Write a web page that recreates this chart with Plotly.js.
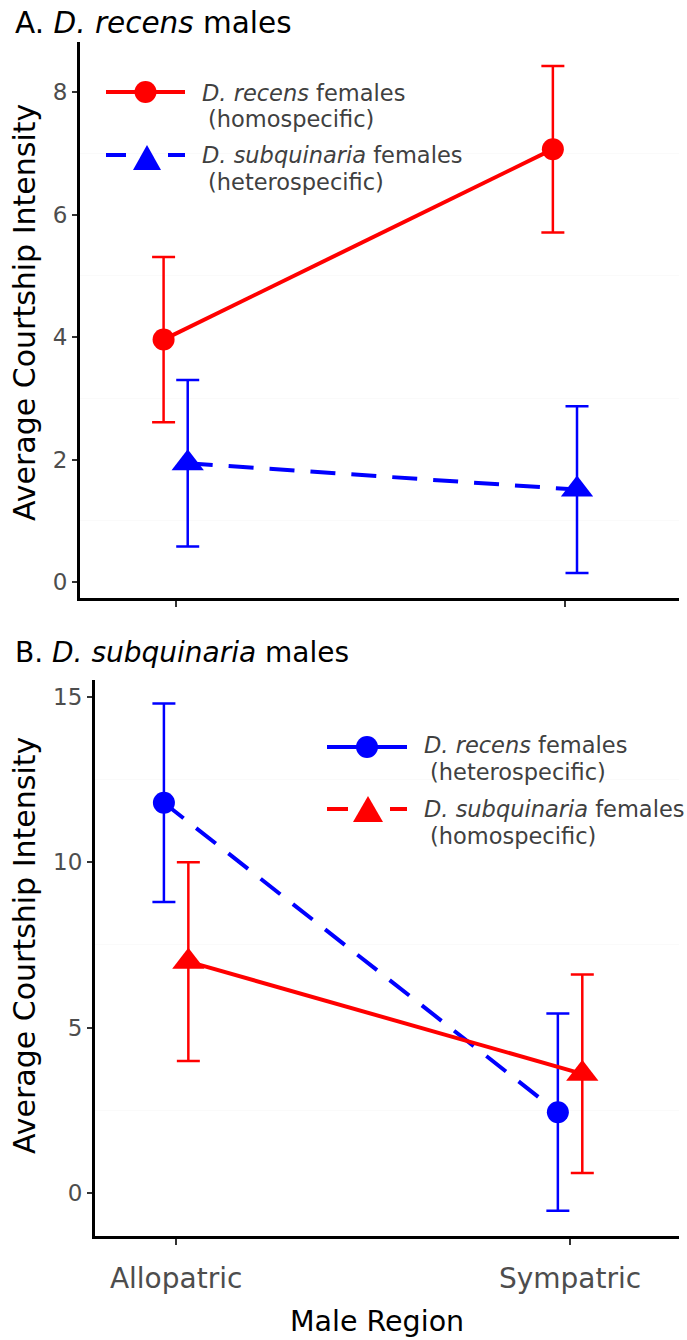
<!DOCTYPE html>
<html>
<head>
<meta charset="utf-8">
<script src="https://cdn.plot.ly/plotly-3.0.1.min.js"></script>
<style>html,body{margin:0;padding:0;background:#fff}</style>
</head>
<body>
<div id="chart" style="width:687px;height:1340px"></div>
<script>
// Male region categories (x axis of both panels)
const regions = ['Allopatric', 'Sympatric'];

// Panel A: D. recens males – mean courtship intensity and error half-widths
const aRecensFemales = [3.96, 7.07];
const aRecensFemalesErr = [1.35, 1.36];
const aSubqFemales = [1.94, 1.51];
const aSubqFemalesErr = [1.36, 1.36];

// Panel B: D. subquinaria males
const bRecensFemales = [11.79, 2.44];
const bRecensFemalesErr = [3.0, 2.98];
const bSubqFemales = [6.99, 3.60];
const bSubqFemalesErr = [3.0, 3.0];

// Tick values for the y axes
const aYTicks = [0, 2, 4, 6, 8];
const bYTicks = [0, 5, 10, 15];

const W = 687, H = 1340;
const px = v => v / W;
const py = v => 1 - v / H;

const RED = '#FF0000', BLUE = '#0000FF';
const FONT = 'DejaVu Sans';
const DODGE = 0.031;   // horizontal dodge between female groups
const DASH = '25px,16px';

// x positions: category index, dodged left for D. recens females, right for D. subquinaria females
const xLeft = regions.map((_, i) => i + 1 - DODGE);
const xRight = regions.map((_, i) => i + 1 + DODGE);

function series(x, y, err, color, symbol, size, dash, xa, ya) {
  return {
    type: 'scatter', mode: 'lines+markers',
    x: x, y: y, xaxis: xa, yaxis: ya,
    line: {color: color, width: 4, dash: dash},
    marker: {color: color, symbol: symbol, size: size, line: {width: 0}},
    error_y: {type: 'data', array: err, visible: true, color: color, thickness: 2.5, width: 11.5},
    showlegend: false, hoverinfo: 'x+y'
  };
}

const data = [
  series(xLeft, aRecensFemales, aRecensFemalesErr, RED, 'circle', 22, 'solid', 'x', 'y'),
  series(xRight, aSubqFemales, aSubqFemalesErr, BLUE, 'triangle-up', 28, DASH, 'x', 'y'),
  series(xLeft, bRecensFemales, bRecensFemalesErr, BLUE, 'circle', 22, DASH, 'x2', 'y2'),
  series(xRight, bSubqFemales, bSubqFemalesErr, RED, 'triangle-up', 28, 'solid', 'x2', 'y2')
];

const axisCommon = {
  showline: true, linecolor: '#000', linewidth: 2.5,
  ticks: 'outside', ticklen: 5, tickwidth: 2, tickcolor: '#333',
  showgrid: false, zeroline: false, fixedrange: true
};

const layout = {
  width: W, height: H,
  margin: {l: 0, r: 0, t: 0, b: 0},
  paper_bgcolor: '#fff', plot_bgcolor: '#fff',
  font: {family: FONT, color: '#4d4d4d'},
  showlegend: false,
  xaxis: Object.assign({}, axisCommon, {
    domain: [px(79.5), px(679)], range: [0.753, 2.293], anchor: 'y',
    tickvals: [1, 2], ticktext: regions, showticklabels: false, ticklen: 6
  }),
  yaxis: Object.assign({}, axisCommon, {
    domain: [py(598), py(42)], range: [-0.26, 8.82], anchor: 'x',
    tickvals: aYTicks, tickfont: {size: 23, color: '#4d4d4d'}, ticklabelstandoff: 0,
    minor: {tick0: 1, dtick: 2, showgrid: true, gridcolor: '#fafafa', gridwidth: 1, ticks: ''}
  }),
  xaxis2: Object.assign({}, axisCommon, {
    domain: [px(94.5), px(679)], range: [0.7928, 2.2765], anchor: 'y2',
    tickvals: [1, 2], ticktext: regions, ticklen: 6,
    tickfont: {size: 28, color: '#4d4d4d'}, ticklabelstandoff: 10
  }),
  yaxis2: Object.assign({}, axisCommon, {
    domain: [py(1236), py(680)], range: [-1.30, 15.5], anchor: 'x2',
    tickvals: bYTicks, tickfont: {size: 23, color: '#4d4d4d'}, ticklabelstandoff: 0,
    minor: {tick0: 2.5, dtick: 5, showgrid: true, gridcolor: '#fafafa', gridwidth: 1, ticks: ''}
  }),
  annotations: [],
  shapes: []
};

function note(text, x, y, size, color, extra) {
  layout.annotations.push(Object.assign({
    xref: 'paper', yref: 'paper', x: px(x), y: py(y),
    xanchor: 'left', yanchor: 'middle', showarrow: false,
    text: text, font: {family: FONT, size: size, color: color}
  }, extra || {}));
}

// Panel titles and axis titles
note('A. <i>D. recens</i> males', 13, 23, 29.5, '#000');
note('B. <i>D. subquinaria</i> males', 13, 653, 28, '#000');
note('Average Courtship Intensity', 24, 313, 30, '#000', {xanchor: 'center', textangle: -90});
note('Average Courtship Intensity', 24, 946, 30, '#000', {xanchor: 'center', textangle: -90});
note('Male Region', 376.5, 1321, 28.5, '#000', {xanchor: 'center'});

// Legend keys
function keyLine(x0, x1, y, color) {
  layout.shapes.push({type: 'line', xref: 'paper', yref: 'paper',
    x0: px(x0), x1: px(x1), y0: py(y), y1: py(y), line: {color: color, width: 4}});
}
function keyCircle(cx, cy, d, color) {
  layout.shapes.push({type: 'circle', xref: 'paper', yref: 'paper',
    xsizemode: 'pixel', ysizemode: 'pixel', xanchor: px(cx), yanchor: py(cy),
    x0: -d / 2, x1: d / 2, y0: -d / 2, y1: d / 2,
    fillcolor: color, line: {width: 0}});
}
function keyTriangle(cx, cy, w, h, color) {
  layout.shapes.push({type: 'path', xref: 'paper', yref: 'paper',
    xsizemode: 'pixel', ysizemode: 'pixel', xanchor: px(cx), yanchor: py(cy),
    path: `M${-w / 2},${-h / 2} L${w / 2},${-h / 2} L0,${h / 2} Z`,
    fillcolor: color, line: {width: 0}});
}

const LEG = 22.5;  // legend text size

// Legend, panel A
keyLine(106, 185, 92, RED);
keyCircle(145.5, 92, 22, RED);
keyLine(106, 126, 155, BLUE);
keyLine(168, 185, 155, BLUE);
keyTriangle(147, 157.5, 28, 25, BLUE);
note('<i>D. recens</i> females', 200, 92.5, LEG, '#404040');
note('(homospecific)', 206, 119.5, LEG, '#404040');
note('<i>D. subquinaria</i> females', 200, 155, LEG, '#404040');
note('(heterospecific)', 206, 182, LEG, '#404040');

// Legend, panel B
keyLine(327, 407, 747, BLUE);
keyCircle(367, 747, 22, BLUE);
keyLine(327, 348, 809, RED);
keyLine(390, 407, 809, RED);
keyTriangle(368, 809, 30, 26, RED);
note('<i>D. recens</i> females', 422, 745, LEG, '#404040');
note('(heterospecific)', 428, 771.5, LEG, '#404040');
note('<i>D. subquinaria</i> females', 422, 808.5, LEG, '#404040');
note('(homospecific)', 428, 835.5, LEG, '#404040');

Plotly.newPlot('chart', data, layout, {staticPlot: true, displayModeBar: false});
</script>
</body>
</html>
